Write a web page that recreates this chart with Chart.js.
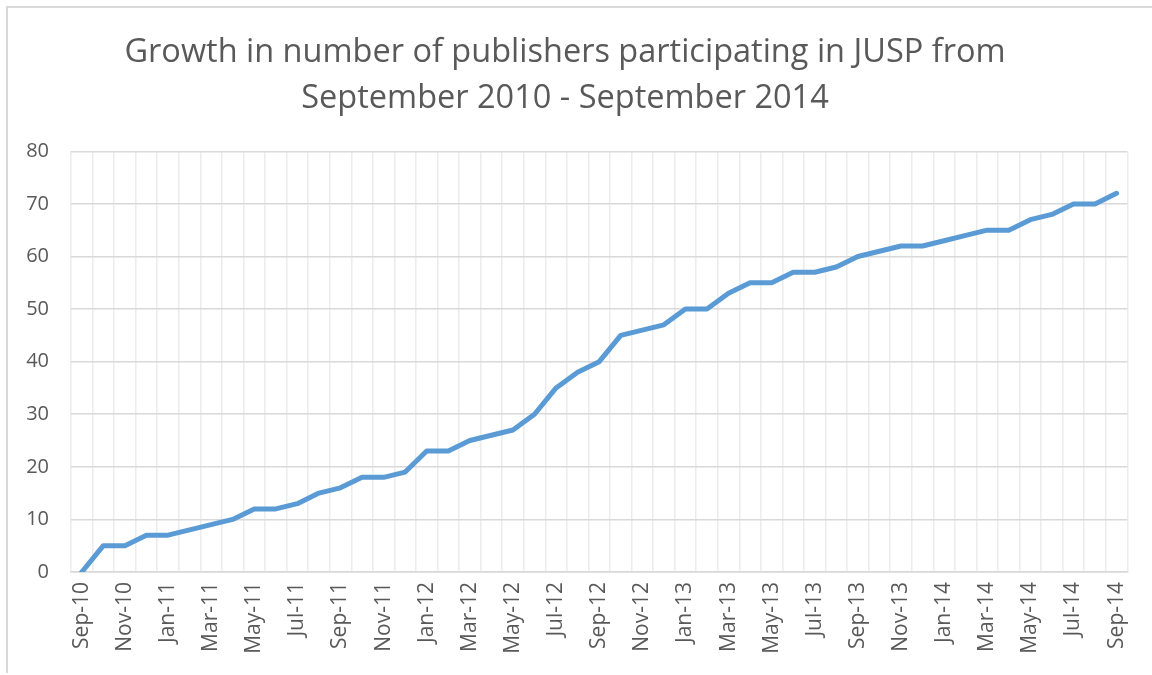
<!DOCTYPE html>
<html>
<head>
<meta charset="utf-8">
<script src="https://cdn.jsdelivr.net/npm/chart.js@4/dist/chart.umd.min.js"></script>
<style>
  html, body { margin: 0; padding: 0; background: #ffffff; }
  body { width: 1152px; height: 675px; overflow: hidden; position: relative; }
  #frame { position: absolute; left: 6px; top: 6px; width: 1300px; height: 667px;
           border-top: 2px solid #d9d9d9; border-left: 2px solid #d9d9d9; box-sizing: border-box; }
  #wrap { position: absolute; left: 0; top: 0; width: 1152px; height: 675px; }
</style>
</head>
<body>
<div id="frame"></div>
<div id="wrap"><canvas id="c" width="1152" height="675"></canvas></div>
<script>
const titleLines = ["Growth in number of publishers participating in JUSP from", "September 2010 - September 2014"];

const months = [
  "Sep-10","Oct-10","Nov-10","Dec-10",
  "Jan-11","Feb-11","Mar-11","Apr-11","May-11","Jun-11","Jul-11","Aug-11","Sep-11","Oct-11","Nov-11","Dec-11",
  "Jan-12","Feb-12","Mar-12","Apr-12","May-12","Jun-12","Jul-12","Aug-12","Sep-12","Oct-12","Nov-12","Dec-12",
  "Jan-13","Feb-13","Mar-13","Apr-13","May-13","Jun-13","Jul-13","Aug-13","Sep-13","Oct-13","Nov-13","Dec-13",
  "Jan-14","Feb-14","Mar-14","Apr-14","May-14","Jun-14","Jul-14","Aug-14","Sep-14"
];

const publishers = [
  0, 5, 5, 7,
  7, 8, 9, 10, 12, 12, 13, 15, 16, 18, 18, 19,
  23, 23, 25, 26, 27, 30, 35, 38, 40, 45, 46, 47,
  50, 50, 53, 55, 55, 57, 57, 58, 60, 61, 62, 62,
  63, 64, 65, 65, 67, 68, 70, 70, 72
];

const yMin = 0, yMax = 80, yStep = 10;

const textColor = "#595959";
const fontFamily = "'Open Sans', 'Noto Sans', sans-serif";

new Chart(document.getElementById("c"), {
  type: "line",
  data: {
    labels: months,
    datasets: [{
      label: "Publishers",
      data: publishers,
      borderColor: "#5b9bd5",
      backgroundColor: "#5b9bd5",
      borderWidth: 5,
      pointRadius: 0,
      pointHoverRadius: 0,
      tension: 0,
      borderCapStyle: "round",
      borderJoinStyle: "round",
      fill: false
    }]
  },
  options: {
    responsive: false,
    animation: false,
    devicePixelRatio: 1,
    layout: { padding: { left: 0, right: 22, top: 0, bottom: 0 } },
    plugins: {
      legend: { display: false },
      tooltip: { enabled: false },
      title: {
        display: true,
        text: titleLines,
        color: textColor,
        font: { family: fontFamily, size: 32.5, weight: "normal", lineHeight: 1.42 },
        padding: { top: 30, bottom: 29 }
      }
    },
    scales: {
      x: {
        offset: true,
        grid: { offset: true, color: "#ececec", lineWidth: 1.5, drawTicks: false },
        border: { display: true, color: "#d9d9d9", width: 1.5 },
        ticks: {
          autoSkip: false,
          maxRotation: 90,
          minRotation: 90,
          padding: 10,
          color: textColor,
          font: { family: fontFamily, size: 21 },
          callback: function (value, index) { return index % 2 === 0 ? months[index] : ""; }
        },
        afterFit: function (scale) { scale.height = 103; }
      },
      y: {
        min: yMin,
        max: yMax,
        ticks: { stepSize: yStep, padding: 22, color: textColor, font: { family: fontFamily, size: 20 } },
        grid: { color: "#d9d9d9", lineWidth: 1.5, drawTicks: false },
        border: { display: false },
        afterFit: function (scale) { scale.width = 71; }
      }
    }
  }
});
</script>
</body>
</html>
